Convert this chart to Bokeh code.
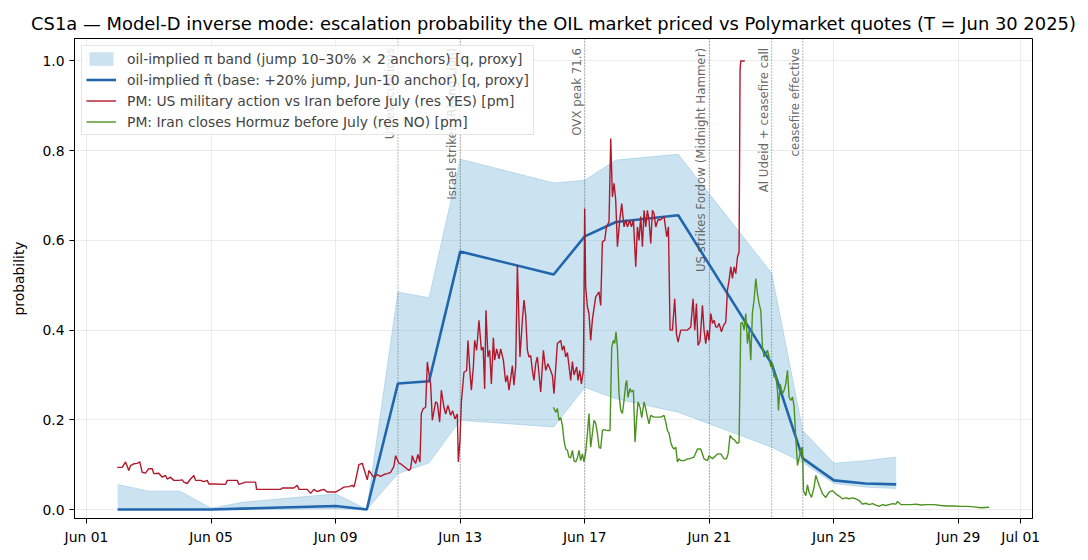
import pandas as pd
from math import pi
from bokeh.plotting import figure
from bokeh.models import (Range1d, FixedTicker, DatetimeTickFormatter, PrintfTickFormatter,
                          Span, Legend, LegendItem, ColumnDataSource)
from bokeh.embed import file_html
from bokeh.resources import INLINE

TITLE = ("CS1a \u2014 Model-D inverse mode: escalation probability the OIL market priced "
         "vs Polymarket quotes (T = Jun 30 2025)")

# ---- oil-implied anchors (trading days) ----
anchor_dates = ["2025-06-02", "2025-06-03", "2025-06-04", "2025-06-05", "2025-06-06",
                "2025-06-09", "2025-06-10", "2025-06-11", "2025-06-12", "2025-06-13",
                "2025-06-16", "2025-06-17", "2025-06-18", "2025-06-20", "2025-06-23",
                "2025-06-24", "2025-06-25", "2025-06-26", "2025-06-27"]
pi_hat = [0.0, 0.0, 0.0, 0.0, 0.002, 0.008, 0.0, 0.281, 0.286, 0.575,
          0.524, 0.609, 0.641, 0.656, 0.325, 0.114, 0.065, 0.058, 0.056]
band_lo = [0.0, 0.0, 0.0, 0.0, 0.0, 0.002, 0.0, 0.08, 0.104, 0.199,
           0.184, 0.272, 0.247, 0.217, 0.139, 0.105, 0.058, 0.05, 0.047]
band_hi = [0.056, 0.041, 0.041, 0.003, 0.016, 0.035, 0.0, 0.485, 0.472, 0.781,
           0.728, 0.734, 0.779, 0.792, 0.527, 0.176, 0.103, 0.109, 0.117]

# ---- Polymarket: US military action vs Iran (day of June, fractional) ----
red_day = [1.986, 2.147, 2.253, 2.359, 2.413, 2.519, 2.629, 2.712, 2.789, 2.895,
           3.001, 3.11, 3.162, 3.323, 3.432, 3.538, 3.592, 3.698, 3.804, 3.965,
           4.074, 4.126, 4.235, 4.341, 4.447, 4.501, 4.662, 4.768, 4.877, 4.929,
           5.089, 5.465, 5.52, 5.841, 5.892, 6.108, 6.429, 6.461, 7.232, 7.287,
           7.659, 7.768, 7.82, 8.09, 8.196, 8.302, 8.411, 8.517, 8.623, 8.732,
           8.999, 9.105, 9.265, 9.426, 9.535, 9.587, 9.641, 9.747, 9.856, 9.908,
           10.017, 10.068, 10.178, 10.229, 10.338, 10.444, 10.55, 10.659, 10.765, 10.871,
           10.926, 11.032, 11.087, 11.247, 11.353, 11.408, 11.463, 11.514, 11.569, 11.642,
           11.707, 11.752, 11.816, 11.89, 11.944, 11.996, 12.05, 12.105, 12.211, 12.266,
           12.34, 12.394, 12.478, 12.532, 12.606, 12.693, 12.757, 12.831, 12.908, 12.94,
           12.992, 13.037, 13.12, 13.207, 13.249, 13.313, 13.358, 13.422, 13.464, 13.528,
           13.602, 13.679, 13.737, 13.785, 13.827, 13.891, 13.946, 14.0, 14.065, 14.106,
           14.171, 14.245, 14.299, 14.386, 14.46, 14.514, 14.566, 14.62, 14.675, 14.726,
           14.781, 14.836, 14.919, 14.996, 15.048, 15.102, 15.157, 15.208, 15.263, 15.317,
           15.369, 15.423, 15.478, 15.584, 15.671, 15.745, 15.818, 15.883, 15.96, 16.011,
           16.12, 16.226, 16.281, 16.332, 16.387, 16.442, 16.548, 16.602, 16.654, 16.74,
           16.782, 16.837, 16.891, 16.956, 16.997, 17.029, 17.084, 17.135, 17.19, 17.245,
           17.351, 17.457, 17.511, 17.566, 17.64, 17.694, 17.778, 17.833, 17.887, 17.939,
           17.993, 18.048, 18.122, 18.186, 18.26, 18.315, 18.369, 18.443, 18.498, 18.562,
           18.636, 18.69, 18.742, 18.796, 18.851, 18.903, 18.957, 19.011, 19.063, 19.118,
           19.172, 19.224, 19.278, 19.352, 19.439, 19.545, 19.632, 19.686, 19.738, 19.815,
           19.888, 19.943, 19.995, 20.081, 20.297, 20.403, 20.476, 20.531, 20.585, 20.637,
           20.701, 20.778, 20.83, 20.884, 20.939, 20.99, 21.045, 21.1, 21.151, 21.206,
           21.26, 21.312, 21.389, 21.453, 21.527, 21.581, 21.633, 21.687, 21.742, 21.793,
           21.848, 21.903, 21.954, 21.986, 22.009, 22.137]
red_p = [0.094, 0.094, 0.106, 0.087, 0.098, 0.102, 0.103, 0.106, 0.083, 0.081,
         0.091, 0.091, 0.080, 0.081, 0.072, 0.076, 0.068, 0.072, 0.065, 0.065,
         0.066, 0.061, 0.058, 0.068, 0.076, 0.065, 0.065, 0.062, 0.065, 0.057,
         0.057, 0.056, 0.065, 0.065, 0.056, 0.061, 0.061, 0.045, 0.045, 0.048,
         0.048, 0.054, 0.045, 0.045, 0.036, 0.045, 0.040, 0.043, 0.045, 0.039,
         0.039, 0.043, 0.050, 0.051, 0.054, 0.050, 0.065, 0.100, 0.103, 0.091,
         0.066, 0.087, 0.076, 0.072, 0.078, 0.074, 0.078, 0.080, 0.083, 0.096,
         0.120, 0.103, 0.102, 0.093, 0.087, 0.091, 0.120, 0.109, 0.103, 0.123,
         0.106, 0.214, 0.225, 0.228, 0.329, 0.303, 0.280, 0.199, 0.240, 0.237,
         0.195, 0.266, 0.228, 0.213, 0.232, 0.210, 0.220, 0.202, 0.213, 0.106,
         0.154, 0.240, 0.306, 0.310, 0.377, 0.306, 0.266, 0.318, 0.377, 0.355,
         0.422, 0.355, 0.362, 0.269, 0.444, 0.340, 0.355, 0.280, 0.383, 0.333,
         0.358, 0.336, 0.358, 0.333, 0.284, 0.299, 0.266, 0.292, 0.321, 0.277,
         0.318, 0.545, 0.340, 0.422, 0.467, 0.433, 0.355, 0.340, 0.343, 0.310,
         0.288, 0.325, 0.340, 0.262, 0.355, 0.310, 0.325, 0.314, 0.299, 0.258,
         0.370, 0.377, 0.355, 0.365, 0.340, 0.350, 0.288, 0.330, 0.300, 0.318,
         0.288, 0.310, 0.280, 0.310, 0.671, 0.496, 0.452, 0.437, 0.377, 0.424,
         0.474, 0.485, 0.455, 0.597, 0.600, 0.630, 0.641, 0.827, 0.697, 0.727,
         0.690, 0.586, 0.645, 0.682, 0.630, 0.646, 0.630, 0.645, 0.630, 0.646,
         0.541, 0.630, 0.600, 0.653, 0.586, 0.667, 0.630, 0.667, 0.645, 0.593,
         0.667, 0.660, 0.630, 0.646, 0.646, 0.653, 0.608, 0.630, 0.400, 0.400,
         0.470, 0.392, 0.373, 0.400, 0.400, 0.407, 0.470, 0.400, 0.459, 0.366,
         0.375, 0.455, 0.400, 0.370, 0.400, 0.377, 0.437, 0.415, 0.422, 0.407,
         0.407, 0.415, 0.396, 0.410, 0.418, 0.489, 0.511, 0.541, 0.515, 0.541,
         0.526, 0.563, 0.574, 0.980, 1.0, 1.0]

# ---- Polymarket: Iran closes Hormuz (day of June, fractional) ----
green_day = [15.992, 16.066, 16.12, 16.172, 16.226, 16.281, 16.332, 16.387, 16.442, 16.493,
             16.548, 16.602, 16.654, 16.708, 16.763, 16.814, 16.869, 16.923, 16.975, 17.029,
             17.084, 17.135, 17.19, 17.245, 17.296, 17.351, 17.405, 17.457, 17.511, 17.566,
             17.617, 17.727, 17.81, 17.865, 17.919, 17.961, 18.003, 18.048, 18.099, 18.154,
             18.208, 18.26, 18.315, 18.347, 18.388, 18.453, 18.498, 18.562, 18.613, 18.668,
             18.71, 18.774, 18.828, 18.903, 18.957, 19.011, 19.063, 19.118, 19.224, 19.333,
             19.439, 19.545, 19.6, 19.654, 19.705, 19.76, 19.815, 19.866, 19.921, 19.975,
             20.027, 20.081, 20.187, 20.297, 20.348, 20.509, 20.618, 20.724, 20.83, 20.939,
             20.99, 21.1, 21.26, 21.366, 21.472, 21.549, 21.601, 21.665, 21.742, 21.793,
             21.903, 21.954, 22.009, 22.063, 22.115, 22.169, 22.224, 22.275, 22.33, 22.384,
             22.436, 22.491, 22.545, 22.597, 22.651, 22.706, 22.757, 22.812, 22.866, 22.918,
             22.973, 23.027, 23.078, 23.133, 23.187, 23.22, 23.271, 23.348, 23.4, 23.454,
             23.509, 23.56, 23.615, 23.67, 23.721, 23.775, 23.83, 23.881, 23.936, 23.99,
             24.022, 24.096, 24.151, 24.203, 24.28, 24.363, 24.418, 24.472, 24.524, 24.633,
             24.739, 24.845, 24.954, 25.06, 25.166, 25.275, 25.381, 25.487, 25.597, 25.703,
             25.809, 25.918, 26.024, 26.13, 26.239, 26.345, 26.451, 26.561, 26.667, 26.773,
             26.882, 26.988, 27.042, 27.148, 27.254, 27.469, 27.63, 27.791, 28.006, 28.218,
             28.433, 28.648, 28.861, 29.076, 29.291, 29.503, 29.718, 29.985]
green_p = [0.228, 0.217, 0.225, 0.199, 0.205, 0.188, 0.154, 0.135, 0.132, 0.117,
           0.115, 0.132, 0.109, 0.106, 0.115, 0.132, 0.109, 0.124, 0.106, 0.128,
           0.169, 0.214, 0.139, 0.170, 0.199, 0.192, 0.170, 0.139, 0.136, 0.176,
           0.178, 0.176, 0.176, 0.362, 0.377, 0.370, 0.396, 0.360, 0.258, 0.221,
           0.214, 0.243, 0.280, 0.288, 0.250, 0.270, 0.262, 0.266, 0.150, 0.205,
           0.240, 0.228, 0.205, 0.240, 0.225, 0.206, 0.191, 0.210, 0.206, 0.206,
           0.206, 0.210, 0.195, 0.176, 0.170, 0.150, 0.139, 0.135, 0.139, 0.106,
           0.113, 0.109, 0.109, 0.113, 0.113, 0.117, 0.135, 0.135, 0.113, 0.109,
           0.120, 0.113, 0.124, 0.124, 0.113, 0.113, 0.124, 0.165, 0.158, 0.156,
           0.147, 0.150, 0.415, 0.417, 0.400, 0.437, 0.370, 0.400, 0.333, 0.440,
           0.467, 0.515, 0.481, 0.459, 0.444, 0.362, 0.340, 0.348, 0.355, 0.340,
           0.318, 0.325, 0.295, 0.300, 0.266, 0.221, 0.280, 0.258, 0.266, 0.280,
           0.310, 0.251, 0.243, 0.251, 0.230, 0.161, 0.098, 0.115, 0.132, 0.139,
           0.042, 0.031, 0.055, 0.038, 0.027, 0.050, 0.076, 0.065, 0.054, 0.035,
           0.027, 0.039, 0.042, 0.035, 0.030, 0.024, 0.026, 0.024, 0.026, 0.024,
           0.020, 0.012, 0.014, 0.011, 0.013, 0.010, 0.007, 0.011, 0.009, 0.011,
           0.013, 0.012, 0.018, 0.011, 0.011, 0.011, 0.012, 0.010, 0.011, 0.011,
           0.009, 0.008, 0.008, 0.007, 0.007, 0.006, 0.004, 0.005]

# ---- events ----
event_dates = ["2025-06-11", "2025-06-13", "2025-06-17", "2025-06-21", "2025-06-23", "2025-06-24"]
event_labels = ["US evacuations", "Israel strikes (Rising Lion)", "OVX peak 71.6",
                "US strikes Fordow (Midnight Hammer)", "Al Udeid + ceasefire call",
                "ceasefire effective"]

x_tick_dates = ["2025-06-01", "2025-06-05", "2025-06-09", "2025-06-13", "2025-06-17",
                "2025-06-21", "2025-06-25", "2025-06-29", "2025-07-01"]
y_ticks = [0.0, 0.2, 0.4, 0.6, 0.8, 1.0]

legend_labels = [
    "oil-implied \u03c0 band (jump 10\u201330% \u00d7 2 anchors) [q, proxy]",
    "oil-implied \u03c0\u0302 (base: +20% jump, Jun-10 anchor) [q, proxy]",
    "PM: US military action vs Iran before July (res YES) [pm]",
    "PM: Iran closes Hormuz before July (res NO) [pm]",
]

BASE = pd.Timestamp("2025-06-01")


def day_to_ts(days):
    return [BASE + pd.Timedelta(days=d - 1) for d in days]


FONT = "DejaVu Sans"
C_BAND = "#6baed6"
C_BLUE = "#2166ac"
C_RED = "#b2182b"
C_GREEN = "#4d9221"

anchor_ts = pd.to_datetime(anchor_dates)
band_src = ColumnDataSource(dict(x=anchor_ts, lo=band_lo, hi=band_hi, pi=pi_hat))
red_src = ColumnDataSource(dict(x=day_to_ts(red_day), y=red_p))
green_src = ColumnDataSource(dict(x=day_to_ts(green_day), y=green_p))
ev_src = ColumnDataSource(dict(x=pd.to_datetime(event_dates), t=event_labels))

p = figure(width=1088, height=560, x_axis_type="datetime",
           output_backend="svg", toolbar_location=None,
           x_range=Range1d(BASE + pd.Timedelta(days=-0.385), BASE + pd.Timedelta(days=30.376)),
           y_range=Range1d(-0.02, 1.05),
           min_border_left=74, min_border_right=56, min_border_top=38, min_border_bottom=42)

p.title.text = TITLE
p.title.align = "center"
p.title.text_font = FONT
p.title.text_font_size = "17.9px"
p.title.text_font_style = "normal"
p.title.text_color = "black"

# band
r_band = p.varea(x="x", y1="lo", y2="hi", source=band_src, fill_color=C_BAND, fill_alpha=0.35)
p.line(x="x", y="hi", source=band_src, line_color=C_BAND, line_alpha=0.35, line_width=1)
p.line(x="x", y="lo", source=band_src, line_color=C_BAND, line_alpha=0.35, line_width=1)

# event lines
for d in event_dates:
    p.add_layout(Span(location=pd.Timestamp(d).value / 1e6, dimension="height",
                      line_color="#444444", line_width=0.9, line_dash="1 2", line_alpha=0.85))

r_blue = p.line(x="x", y="pi", source=band_src, line_color=C_BLUE, line_width=2.6)
r_red = p.line(x="x", y="y", source=red_src, line_color=C_RED, line_width=1.4)
r_green = p.line(x="x", y="y", source=green_src, line_color=C_GREEN, line_width=1.4)

p.text(x="x", y=1.029, text="t", source=ev_src, angle=pi / 2,
       text_align="right", text_baseline="bottom", text_font_size="11.8px",
       text_color="#4d4d4d", text_alpha=0.85, text_font={"value": FONT}, x_offset=-1)

# axes
p.xaxis.ticker = FixedTicker(ticks=[pd.Timestamp(d).value / 1e6 for d in x_tick_dates])
fmt = "%b %d"
p.xaxis.formatter = DatetimeTickFormatter(days=fmt, months=fmt, hours=fmt, years=fmt,
                                          microseconds=fmt, milliseconds=fmt, seconds=fmt,
                                          minsec=fmt, minutes=fmt, hourmin=fmt)
p.yaxis.ticker = FixedTicker(ticks=y_ticks)
p.yaxis.formatter = PrintfTickFormatter(format="%.1f")
p.yaxis.axis_label = "probability"

for ax in (p.xaxis, p.yaxis):
    ax.major_label_text_font = FONT
    ax.major_label_text_font_size = "13.9px"
    ax.major_label_text_color = "black"
    ax.axis_label_text_font = FONT
    ax.axis_label_text_font_size = "13.9px"
    ax.axis_label_text_font_style = "normal"
    ax.axis_label_text_color = "black"
    ax.axis_line_color = "black"
    ax.major_tick_line_color = "black"
    ax.major_tick_out = 5
    ax.major_tick_in = 0
    ax.minor_tick_line_color = None
    ax.major_label_standoff = 5
p.yaxis.axis_label_standoff = 12

p.outline_line_color = "black"
p.outline_line_width = 1
p.xgrid.grid_line_color = "#b0b0b0"
p.ygrid.grid_line_color = "#b0b0b0"
p.xgrid.grid_line_alpha = 0.3
p.ygrid.grid_line_alpha = 0.3
p.xgrid.grid_line_width = 0.8
p.ygrid.grid_line_width = 0.8

legend = Legend(items=[
    LegendItem(label=legend_labels[0], renderers=[r_band]),
    LegendItem(label=legend_labels[1], renderers=[r_blue]),
    LegendItem(label=legend_labels[2], renderers=[r_red]),
    LegendItem(label=legend_labels[3], renderers=[r_green]),
], location="top_left")
legend.margin = 7
legend.padding = 4
legend.spacing = 4
legend.glyph_width = 30
legend.glyph_height = 17
legend.label_height = 17
legend.label_standoff = 11
legend.label_text_font = FONT
legend.label_text_font_size = "13.9px"
legend.border_line_color = "#cccccc"
legend.border_line_width = 1
legend.background_fill_alpha = 0.8
p.add_layout(legend)

html = file_html(p, INLINE)
open("out.html", "w").write(html)
